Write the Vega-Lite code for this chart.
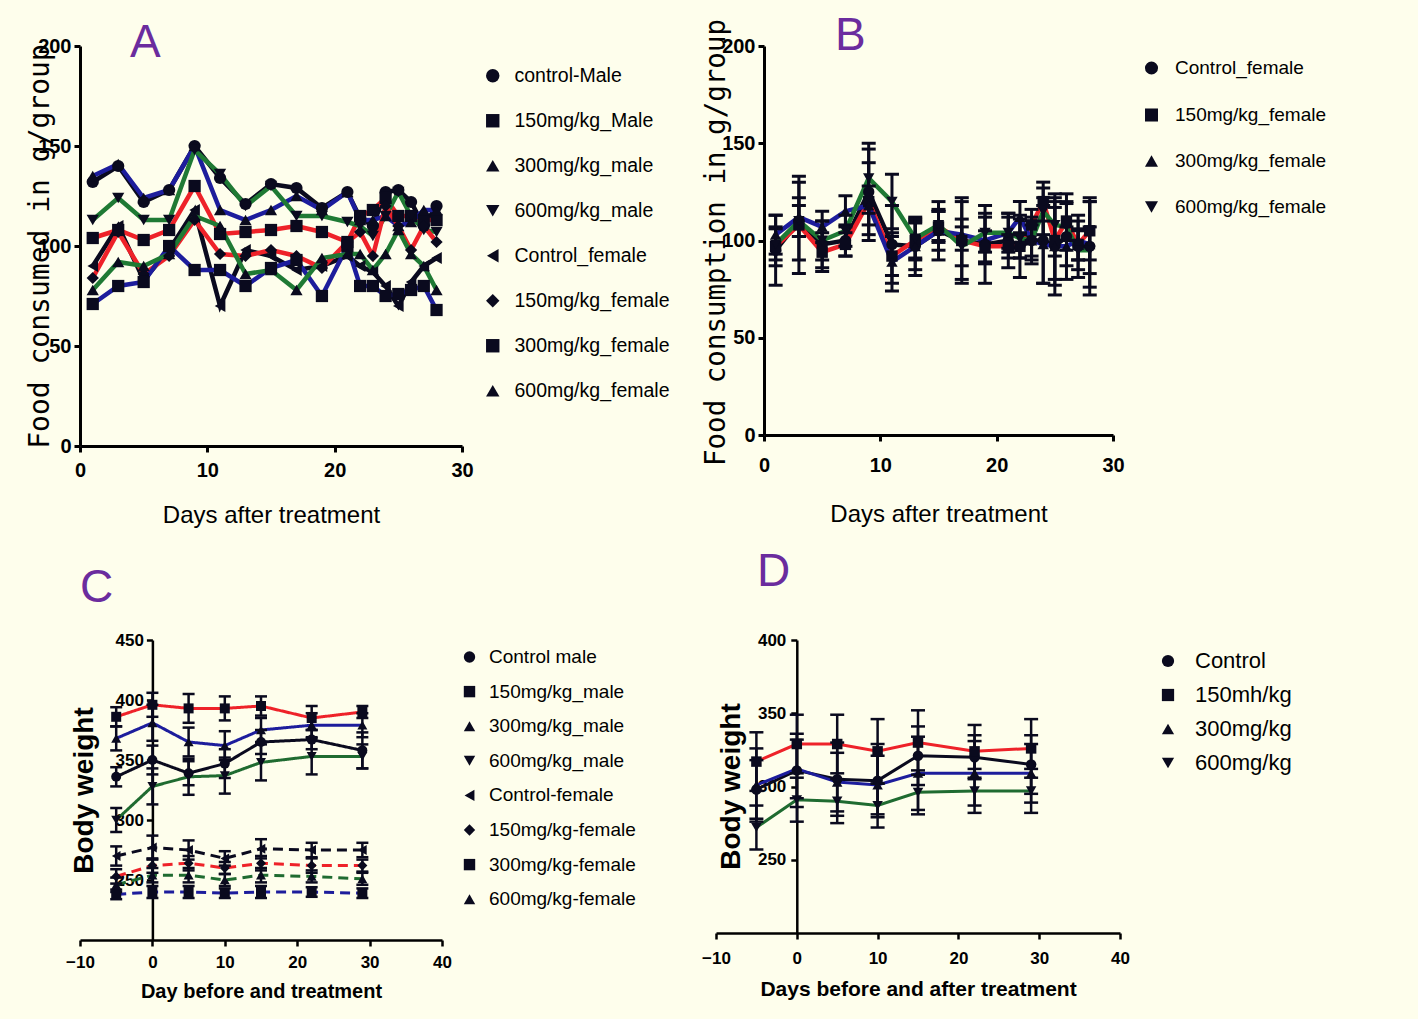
{
"$schema": "https://vega.github.io/schema/vega-lite/v6.json",
"background": "#FEFEEC",
"autosize": {"type": "none"},
"padding": {"left": 80, "top": 46, "right": 1338, "bottom": 973},
"config": {
  "view": {"stroke": null},
  "font": "Liberation Sans",
  "axis": {"grid": false, "domainColor": "#000", "tickColor": "#000", "labelColor": "#000", "titleColor": "#000", "domainWidth": 3, "tickWidth": 3, "tickSize": 6, "labelFontWeight": "bold", "titleFontWeight": "normal", "labelFlush": false, "labelOverlap": false, "titleFont": "Liberation Sans", "labelFont": "Liberation Sans"},
  "legend": {"labelColor": "#000", "labelFont": "Liberation Sans", "padding": 0},
  "title": {"color": "#6B2C9E", "fontSize": 46, "fontWeight": "normal", "font": "Liberation Sans", "anchor": "start", "frame": "group"}
},
"datasets": {
"a": [
{"g":"control-Male","day":1,"v":132},{"g":"control-Male","day":3,"v":140},{"g":"control-Male","day":5,"v":122},{"g":"control-Male","day":7,"v":128},{"g":"control-Male","day":9,"v":150},{"g":"control-Male","day":11,"v":134},{"g":"control-Male","day":13,"v":121},{"g":"control-Male","day":15,"v":131},{"g":"control-Male","day":17,"v":129},{"g":"control-Male","day":19,"v":119},{"g":"control-Male","day":21,"v":127},{"g":"control-Male","day":22,"v":114},{"g":"control-Male","day":23,"v":110},{"g":"control-Male","day":24,"v":127},{"g":"control-Male","day":25,"v":128},{"g":"control-Male","day":26,"v":122},{"g":"control-Male","day":27,"v":110},{"g":"control-Male","day":28,"v":120},
{"g":"150mg/kg_Male","day":1,"v":104},{"g":"150mg/kg_Male","day":3,"v":108},{"g":"150mg/kg_Male","day":5,"v":103},{"g":"150mg/kg_Male","day":7,"v":108},{"g":"150mg/kg_Male","day":9,"v":130},{"g":"150mg/kg_Male","day":11,"v":106},{"g":"150mg/kg_Male","day":13,"v":107},{"g":"150mg/kg_Male","day":15,"v":108},{"g":"150mg/kg_Male","day":17,"v":110},{"g":"150mg/kg_Male","day":19,"v":107},{"g":"150mg/kg_Male","day":21,"v":102},{"g":"150mg/kg_Male","day":22,"v":115},{"g":"150mg/kg_Male","day":23,"v":118},{"g":"150mg/kg_Male","day":24,"v":124},{"g":"150mg/kg_Male","day":25,"v":115},{"g":"150mg/kg_Male","day":26,"v":115},{"g":"150mg/kg_Male","day":27,"v":113},{"g":"150mg/kg_Male","day":28,"v":113},
{"g":"300mg/kg_male","day":1,"v":135},{"g":"300mg/kg_male","day":3,"v":141},{"g":"300mg/kg_male","day":5,"v":124},{"g":"300mg/kg_male","day":7,"v":128},{"g":"300mg/kg_male","day":9,"v":150},{"g":"300mg/kg_male","day":11,"v":118},{"g":"300mg/kg_male","day":13,"v":113},{"g":"300mg/kg_male","day":15,"v":118},{"g":"300mg/kg_male","day":17,"v":125},{"g":"300mg/kg_male","day":19,"v":118},{"g":"300mg/kg_male","day":21,"v":127},{"g":"300mg/kg_male","day":22,"v":113},{"g":"300mg/kg_male","day":23,"v":113},{"g":"300mg/kg_male","day":24,"v":115},{"g":"300mg/kg_male","day":25,"v":110},{"g":"300mg/kg_male","day":26,"v":112},{"g":"300mg/kg_male","day":27,"v":118},{"g":"300mg/kg_male","day":28,"v":118},
{"g":"600mg/kg_male","day":1,"v":113},{"g":"600mg/kg_male","day":3,"v":124},{"g":"600mg/kg_male","day":5,"v":113},{"g":"600mg/kg_male","day":7,"v":113},{"g":"600mg/kg_male","day":9,"v":148},{"g":"600mg/kg_male","day":11,"v":136},{"g":"600mg/kg_male","day":13,"v":120},{"g":"600mg/kg_male","day":15,"v":130},{"g":"600mg/kg_male","day":17,"v":115},{"g":"600mg/kg_male","day":19,"v":115},{"g":"600mg/kg_male","day":21,"v":112},{"g":"600mg/kg_male","day":22,"v":110},{"g":"600mg/kg_male","day":23,"v":105},{"g":"600mg/kg_male","day":24,"v":115},{"g":"600mg/kg_male","day":25,"v":127},{"g":"600mg/kg_male","day":26,"v":115},{"g":"600mg/kg_male","day":27,"v":108},{"g":"600mg/kg_male","day":28,"v":107},
{"g":"Control_female","day":1,"v":90},{"g":"Control_female","day":3,"v":110},{"g":"Control_female","day":5,"v":83},{"g":"Control_female","day":7,"v":98},{"g":"Control_female","day":9,"v":118},{"g":"Control_female","day":11,"v":70},{"g":"Control_female","day":13,"v":98},{"g":"Control_female","day":15,"v":95},{"g":"Control_female","day":17,"v":88},{"g":"Control_female","day":19,"v":90},{"g":"Control_female","day":21,"v":95},{"g":"Control_female","day":22,"v":90},{"g":"Control_female","day":23,"v":87},{"g":"Control_female","day":24,"v":80},{"g":"Control_female","day":25,"v":70},{"g":"Control_female","day":26,"v":82},{"g":"Control_female","day":27,"v":90},{"g":"Control_female","day":28,"v":94},
{"g":"150mg/kg_female","day":1,"v":84},{"g":"150mg/kg_female","day":3,"v":107},{"g":"150mg/kg_female","day":5,"v":86},{"g":"150mg/kg_female","day":7,"v":95},{"g":"150mg/kg_female","day":9,"v":113},{"g":"150mg/kg_female","day":11,"v":96},{"g":"150mg/kg_female","day":13,"v":95},{"g":"150mg/kg_female","day":15,"v":98},{"g":"150mg/kg_female","day":17,"v":95},{"g":"150mg/kg_female","day":19,"v":89},{"g":"150mg/kg_female","day":21,"v":102},{"g":"150mg/kg_female","day":22,"v":107},{"g":"150mg/kg_female","day":23,"v":95},{"g":"150mg/kg_female","day":24,"v":120},{"g":"150mg/kg_female","day":25,"v":110},{"g":"150mg/kg_female","day":26,"v":98},{"g":"150mg/kg_female","day":27,"v":110},{"g":"150mg/kg_female","day":28,"v":102},
{"g":"300mg/kg_female","day":1,"v":71},{"g":"300mg/kg_female","day":3,"v":80},{"g":"300mg/kg_female","day":5,"v":82},{"g":"300mg/kg_female","day":7,"v":100},{"g":"300mg/kg_female","day":9,"v":88},{"g":"300mg/kg_female","day":11,"v":88},{"g":"300mg/kg_female","day":13,"v":80},{"g":"300mg/kg_female","day":15,"v":89},{"g":"300mg/kg_female","day":17,"v":93},{"g":"300mg/kg_female","day":19,"v":75},{"g":"300mg/kg_female","day":21,"v":100},{"g":"300mg/kg_female","day":22,"v":80},{"g":"300mg/kg_female","day":23,"v":80},{"g":"300mg/kg_female","day":24,"v":75},{"g":"300mg/kg_female","day":25,"v":76},{"g":"300mg/kg_female","day":26,"v":78},{"g":"300mg/kg_female","day":27,"v":80},{"g":"300mg/kg_female","day":28,"v":68},
{"g":"600mg/kg_female","day":1,"v":78},{"g":"600mg/kg_female","day":3,"v":92},{"g":"600mg/kg_female","day":5,"v":90},{"g":"600mg/kg_female","day":7,"v":96},{"g":"600mg/kg_female","day":9,"v":115},{"g":"600mg/kg_female","day":11,"v":110},{"g":"600mg/kg_female","day":13,"v":86},{"g":"600mg/kg_female","day":15,"v":88},{"g":"600mg/kg_female","day":17,"v":78},{"g":"600mg/kg_female","day":19,"v":94},{"g":"600mg/kg_female","day":21,"v":96},{"g":"600mg/kg_female","day":22,"v":96},{"g":"600mg/kg_female","day":23,"v":88},{"g":"600mg/kg_female","day":24,"v":96},{"g":"600mg/kg_female","day":25,"v":108},{"g":"600mg/kg_female","day":26,"v":96},{"g":"600mg/kg_female","day":27,"v":90},{"g":"600mg/kg_female","day":28,"v":78}
],
"b": [
{"g":"Control_female","day":1,"v":95,"sd":18},{"g":"Control_female","day":3,"v":110,"sd":20},{"g":"Control_female","day":5,"v":98,"sd":12},{"g":"Control_female","day":7,"v":100,"sd":8},{"g":"Control_female","day":9,"v":125,"sd":22},{"g":"Control_female","day":11,"v":98,"sd":20},{"g":"Control_female","day":13,"v":97,"sd":15},{"g":"Control_female","day":15,"v":105,"sd":15},{"g":"Control_female","day":17,"v":100,"sd":22},{"g":"Control_female","day":19,"v":98,"sd":20},{"g":"Control_female","day":21,"v":100,"sd":14},{"g":"Control_female","day":22,"v":97,"sd":16},{"g":"Control_female","day":23,"v":100,"sd":12},{"g":"Control_female","day":24,"v":100,"sd":22},{"g":"Control_female","day":25,"v":97,"sd":25},{"g":"Control_female","day":26,"v":102,"sd":22},{"g":"Control_female","day":27,"v":97,"sd":16},{"g":"Control_female","day":28,"v":97,"sd":25},
{"g":"150mg/kg_female","day":1,"v":97,"sd":10},{"g":"150mg/kg_female","day":3,"v":108,"sd":25},{"g":"150mg/kg_female","day":5,"v":94,"sd":10},{"g":"150mg/kg_female","day":7,"v":98,"sd":6},{"g":"150mg/kg_female","day":9,"v":120,"sd":20},{"g":"150mg/kg_female","day":11,"v":92,"sd":10},{"g":"150mg/kg_female","day":13,"v":100,"sd":10},{"g":"150mg/kg_female","day":15,"v":107,"sd":8},{"g":"150mg/kg_female","day":17,"v":100,"sd":20},{"g":"150mg/kg_female","day":19,"v":97,"sd":8},{"g":"150mg/kg_female","day":21,"v":97,"sd":6},{"g":"150mg/kg_female","day":22,"v":97,"sd":6},{"g":"150mg/kg_female","day":23,"v":108,"sd":8},{"g":"150mg/kg_female","day":24,"v":120,"sd":10},{"g":"150mg/kg_female","day":25,"v":100,"sd":20},{"g":"150mg/kg_female","day":26,"v":110,"sd":10},{"g":"150mg/kg_female","day":27,"v":98,"sd":8},{"g":"150mg/kg_female","day":28,"v":105,"sd":15},
{"g":"300mg/kg_female","day":1,"v":103,"sd":10},{"g":"300mg/kg_female","day":3,"v":112,"sd":10},{"g":"300mg/kg_female","day":5,"v":107,"sd":8},{"g":"300mg/kg_female","day":7,"v":115,"sd":8},{"g":"300mg/kg_female","day":9,"v":118,"sd":10},{"g":"300mg/kg_female","day":11,"v":89,"sd":15},{"g":"300mg/kg_female","day":13,"v":97,"sd":12},{"g":"300mg/kg_female","day":15,"v":105,"sd":10},{"g":"300mg/kg_female","day":17,"v":103,"sd":8},{"g":"300mg/kg_female","day":19,"v":100,"sd":12},{"g":"300mg/kg_female","day":21,"v":104,"sd":10},{"g":"300mg/kg_female","day":22,"v":112,"sd":8},{"g":"300mg/kg_female","day":23,"v":100,"sd":10},{"g":"300mg/kg_female","day":24,"v":98,"sd":20},{"g":"300mg/kg_female","day":25,"v":97,"sd":20},{"g":"300mg/kg_female","day":26,"v":97,"sd":10},{"g":"300mg/kg_female","day":27,"v":100,"sd":10},{"g":"300mg/kg_female","day":28,"v":98,"sd":22},
{"g":"600mg/kg_female","day":1,"v":98,"sd":8},{"g":"600mg/kg_female","day":3,"v":110,"sd":8},{"g":"600mg/kg_female","day":5,"v":100,"sd":10},{"g":"600mg/kg_female","day":7,"v":105,"sd":8},{"g":"600mg/kg_female","day":9,"v":132,"sd":18},{"g":"600mg/kg_female","day":11,"v":120,"sd":14},{"g":"600mg/kg_female","day":13,"v":101,"sd":10},{"g":"600mg/kg_female","day":15,"v":108,"sd":8},{"g":"600mg/kg_female","day":17,"v":97,"sd":10},{"g":"600mg/kg_female","day":19,"v":104,"sd":10},{"g":"600mg/kg_female","day":21,"v":104,"sd":8},{"g":"600mg/kg_female","day":22,"v":101,"sd":10},{"g":"600mg/kg_female","day":23,"v":100,"sd":8},{"g":"600mg/kg_female","day":24,"v":115,"sd":12},{"g":"600mg/kg_female","day":25,"v":108,"sd":16},{"g":"600mg/kg_female","day":26,"v":107,"sd":12},{"g":"600mg/kg_female","day":27,"v":95,"sd":10},{"g":"600mg/kg_female","day":28,"v":95,"sd":12}
],
"c": [
{"g":"Control male","sex":"male","day":-5,"v":336,"sd":8},{"g":"Control male","sex":"male","day":0,"v":350,"sd":12},{"g":"Control male","sex":"male","day":5,"v":339,"sd":10},{"g":"Control male","sex":"male","day":10,"v":347,"sd":12},{"g":"Control male","sex":"male","day":15,"v":365,"sd":10},{"g":"Control male","sex":"male","day":22,"v":367,"sd":8},{"g":"Control male","sex":"male","day":29,"v":358,"sd":15},
{"g":"150mg/kg_male","sex":"male","day":-5,"v":386,"sd":8},{"g":"150mg/kg_male","sex":"male","day":0,"v":396,"sd":10},{"g":"150mg/kg_male","sex":"male","day":5,"v":393,"sd":12},{"g":"150mg/kg_male","sex":"male","day":10,"v":393,"sd":10},{"g":"150mg/kg_male","sex":"male","day":15,"v":395,"sd":8},{"g":"150mg/kg_male","sex":"male","day":22,"v":385,"sd":10},{"g":"150mg/kg_male","sex":"male","day":29,"v":390,"sd":5},
{"g":"300mg/kg_male","sex":"male","day":-5,"v":368,"sd":10},{"g":"300mg/kg_male","sex":"male","day":0,"v":381,"sd":15},{"g":"300mg/kg_male","sex":"male","day":5,"v":365,"sd":12},{"g":"300mg/kg_male","sex":"male","day":10,"v":362,"sd":12},{"g":"300mg/kg_male","sex":"male","day":15,"v":375,"sd":10},{"g":"300mg/kg_male","sex":"male","day":22,"v":379,"sd":10},{"g":"300mg/kg_male","sex":"male","day":29,"v":379,"sd":10},
{"g":"600mg/kg_male","sex":"male","day":-5,"v":300,"sd":10},{"g":"600mg/kg_male","sex":"male","day":0,"v":328,"sd":15},{"g":"600mg/kg_male","sex":"male","day":5,"v":336,"sd":15},{"g":"600mg/kg_male","sex":"male","day":10,"v":337,"sd":15},{"g":"600mg/kg_male","sex":"male","day":15,"v":348,"sd":15},{"g":"600mg/kg_male","sex":"male","day":22,"v":353,"sd":15},{"g":"600mg/kg_male","sex":"male","day":29,"v":353,"sd":10},
{"g":"Control-female","sex":"female","day":-5,"v":270,"sd":8},{"g":"Control-female","sex":"female","day":0,"v":277,"sd":10},{"g":"Control-female","sex":"female","day":5,"v":275,"sd":8},{"g":"Control-female","sex":"female","day":10,"v":268,"sd":6},{"g":"Control-female","sex":"female","day":15,"v":276,"sd":8},{"g":"Control-female","sex":"female","day":22,"v":275,"sd":6},{"g":"Control-female","sex":"female","day":29,"v":275,"sd":6},
{"g":"150mg/kg-female","sex":"female","day":-5,"v":253,"sd":6},{"g":"150mg/kg-female","sex":"female","day":0,"v":262,"sd":6},{"g":"150mg/kg-female","sex":"female","day":5,"v":264,"sd":6},{"g":"150mg/kg-female","sex":"female","day":10,"v":260,"sd":5},{"g":"150mg/kg-female","sex":"female","day":15,"v":264,"sd":6},{"g":"150mg/kg-female","sex":"female","day":22,"v":262,"sd":6},{"g":"150mg/kg-female","sex":"female","day":29,"v":262,"sd":5},
{"g":"300mg/kg-female","sex":"female","day":-5,"v":238,"sd":4},{"g":"300mg/kg-female","sex":"female","day":0,"v":240,"sd":5},{"g":"300mg/kg-female","sex":"female","day":5,"v":240,"sd":5},{"g":"300mg/kg-female","sex":"female","day":10,"v":239,"sd":4},{"g":"300mg/kg-female","sex":"female","day":15,"v":240,"sd":5},{"g":"300mg/kg-female","sex":"female","day":22,"v":240,"sd":4},{"g":"300mg/kg-female","sex":"female","day":29,"v":239,"sd":4},
{"g":"600mg/kg-female","sex":"female","day":-5,"v":246,"sd":6},{"g":"600mg/kg-female","sex":"female","day":0,"v":254,"sd":6},{"g":"600mg/kg-female","sex":"female","day":5,"v":254,"sd":6},{"g":"600mg/kg-female","sex":"female","day":10,"v":250,"sd":5},{"g":"600mg/kg-female","sex":"female","day":15,"v":254,"sd":6},{"g":"600mg/kg-female","sex":"female","day":22,"v":253,"sd":5},{"g":"600mg/kg-female","sex":"female","day":29,"v":251,"sd":5}
],
"d": [
{"g":"Control","day":-5,"v":298,"sd":20},{"g":"Control","day":0,"v":311,"sd":25},{"g":"Control","day":5,"v":305,"sd":25},{"g":"Control","day":10,"v":304,"sd":25},{"g":"Control","day":15,"v":321,"sd":20},{"g":"Control","day":22,"v":320,"sd":15},{"g":"Control","day":29,"v":315,"sd":20},
{"g":"150mh/kg","day":-5,"v":317,"sd":20},{"g":"150mh/kg","day":0,"v":329,"sd":20},{"g":"150mh/kg","day":5,"v":329,"sd":20},{"g":"150mh/kg","day":10,"v":324,"sd":22},{"g":"150mh/kg","day":15,"v":330,"sd":22},{"g":"150mh/kg","day":22,"v":324,"sd":18},{"g":"150mh/kg","day":29,"v":326,"sd":20},
{"g":"300mg/kg","day":-5,"v":301,"sd":25},{"g":"300mg/kg","day":0,"v":312,"sd":20},{"g":"300mg/kg","day":5,"v":303,"sd":20},{"g":"300mg/kg","day":10,"v":301,"sd":20},{"g":"300mg/kg","day":15,"v":309,"sd":25},{"g":"300mg/kg","day":22,"v":309,"sd":22},{"g":"300mg/kg","day":29,"v":309,"sd":20},
{"g":"600mg/kg","day":-5,"v":272,"sd":15},{"g":"600mg/kg","day":0,"v":291,"sd":15},{"g":"600mg/kg","day":5,"v":290,"sd":15},{"g":"600mg/kg","day":10,"v":287,"sd":15},{"g":"600mg/kg","day":15,"v":296,"sd":15},{"g":"600mg/kg","day":22,"v":297,"sd":15},{"g":"600mg/kg","day":29,"v":297,"sd":15}
]
},
"spacing": 22,
"resolve": {"scale": {"color": "independent", "shape": "independent", "strokeDash": "independent"}, "legend": {"color": "independent", "shape": "independent", "strokeDash": "independent"}},
"vconcat": [
{"hconcat": [
  {
    "width": 382, "height": 400,
    "title": {"text": "A", "dx": 50, "offset": -67, "baseline": "alphabetic"},
    "data": {"name": "a"},
    "encoding": {
      "x": {"field": "day", "type": "quantitative", "scale": {"domain": [0, 30], "nice": false, "zero": false},
        "axis": {"values": [0, 10, 20, 30], "title": "Days after treatment", "titleFontSize": 24, "titleY": 57, "titleBaseline": "top", "labelPadding": 8, "labelFontSize": 20}},
      "y": {"field": "v", "type": "quantitative", "scale": {"domain": [0, 200], "nice": false},
        "axis": {"values": [0, 50, 100, 150, 200], "title": "Food consumed in g/group", "titleFont": "DejaVu Sans Mono", "titleFontSize": 28, "titleX": -26, "titleY": 200, "labelFontSize": 20, "labelPadding": 3}}
    },
    "layer": [
      {"mark": {"type": "line", "strokeWidth": 4.5},
       "encoding": {"color": {"field": "g", "type": "nominal", "legend": null,
         "scale": {"domain": ["600mg/kg_female","300mg/kg_female","150mg/kg_female","Control_female","600mg/kg_male","300mg/kg_male","150mg/kg_Male","control-Male"],
                   "range": ["#1f7a34","#1d1d9c","#ee2229","#0a0a1e","#1f7a34","#1d1d9c","#ee2229","#0a0a1e"]}}}},
      {"mark": {"type": "point", "filled": true, "size": 150, "color": "#0a0a1e", "opacity": 1},
       "encoding": {"shape": {"field": "g", "type": "nominal",
         "scale": {"domain": ["control-Male","150mg/kg_Male","300mg/kg_male","600mg/kg_male","Control_female","150mg/kg_female","300mg/kg_female","600mg/kg_female"],
                   "range": ["circle","square","triangle-up","triangle-down","triangle-left","diamond","square","triangle-up"]},
         "legend": {"title": null, "orient": "none", "legendX": 403, "legendY": 20, "direction": "vertical", "labelFontSize": 19.5, "symbolSize": 180, "rowPadding": 24, "labelOffset": 12}}}}
    ]
  },
  {
    "width": 349, "height": 389,
    "title": {"text": "B", "dx": 71, "offset": -78, "baseline": "alphabetic"},
    "data": {"name": "b"},
    "encoding": {
      "x": {"field": "day", "type": "quantitative", "scale": {"domain": [0, 30], "nice": false, "zero": false},
        "axis": {"values": [0, 10, 20, 30], "title": "Days after treatment", "titleFontSize": 24, "titleY": 67, "titleBaseline": "top", "labelPadding": 14, "labelFontSize": 20}},
      "y": {"field": "v", "type": "quantitative", "scale": {"domain": [0, 200], "nice": false},
        "axis": {"values": [0, 50, 100, 150, 200], "title": "Food consumption in g/group", "titleFont": "DejaVu Sans Mono", "titleFontSize": 27.5, "titleX": -34, "titleY": 196, "labelFontSize": 20, "labelPadding": 3}}
    },
    "layer": [
      {"mark": {"type": "line", "strokeWidth": 4.5},
       "encoding": {"color": {"field": "g", "type": "nominal", "legend": null,
         "scale": {"domain": ["600mg/kg_female","300mg/kg_female","150mg/kg_female","Control_female"],
                   "range": ["#1f7a34","#1d1d9c","#ee2229","#0a0a1e"]}}}},
      {"mark": {"type": "errorbar", "thickness": 3, "color": "#0a0a1e", "rule": {"color": "#0a0a1e", "opacity": 1}, "ticks": {"size": 14, "thickness": 3, "color": "#0a0a1e", "opacity": 1}},
       "encoding": {"y": {"field": "v", "type": "quantitative"}, "yError": {"field": "sd"}}},
      {"mark": {"type": "point", "filled": true, "size": 130, "color": "#0a0a1e", "opacity": 1},
       "encoding": {"shape": {"field": "g", "type": "nominal",
         "scale": {"domain": ["Control_female","150mg/kg_female","300mg/kg_female","600mg/kg_female"],
                   "range": ["circle","square","triangle-up","triangle-down"]},
         "legend": {"title": null, "orient": "none", "legendX": 378, "legendY": 12.5, "direction": "vertical", "labelFontSize": 19, "symbolSize": 170, "rowPadding": 26, "labelOffset": 14}}}}
    ]
  }
], "spacing": 302, "bounds": "flush",
 "resolve": {"scale": {"color": "independent", "shape": "independent"}, "legend": {"color": "independent", "shape": "independent"}}},
{"hconcat": [
  {
    "width": 362, "height": 300,
    "title": {"text": "C", "dx": 0, "offset": -17, "baseline": "alphabetic"},
    "data": {"name": "c"},
    "encoding": {
      "x": {"field": "day", "type": "quantitative", "scale": {"domain": [-10, 40], "nice": false, "zero": false},
        "axis": {"values": [-10, 0, 10, 20, 30, 40], "title": "Day before and treatment", "titleFontSize": 20, "titleFontWeight": "bold", "titleY": 41, "titleBaseline": "top", "labelPadding": 8, "labelFontSize": 17, "domainWidth": 2.5, "tickWidth": 2.5}},
      "y": {"field": "v", "type": "quantitative", "scale": {"domain": [200, 450], "nice": false, "zero": false},
        "axis": {"values": [250, 300, 350, 400, 450], "offset": -72.4, "title": "Body weight", "titleFontSize": 28, "titleFontWeight": "bold", "titleX": -54, "titleY": 150, "labelFontSize": 17, "labelPadding": 3, "domainWidth": 2.5, "tickWidth": 2.5}}
    },
    "layer": [
      {"mark": {"type": "line", "strokeWidth": 3},
       "encoding": {"color": {"field": "g", "type": "nominal", "legend": null,
         "scale": {"domain": ["600mg/kg-female","300mg/kg-female","150mg/kg-female","Control-female","600mg/kg_male","300mg/kg_male","150mg/kg_male","Control male"],
                   "range": ["#1f6b30","#1d1d9c","#ee2229","#0a0a1e","#1f6b30","#1d1d9c","#ee2229","#0a0a1e"]}},
         "strokeDash": {"field": "sex", "type": "nominal", "legend": null, "scale": {"domain": ["male", "female"], "range": [[1, 0], [10, 6]]}}}},
      {"mark": {"type": "errorbar", "thickness": 2.5, "color": "#0a0a1e", "rule": {"color": "#0a0a1e", "opacity": 1}, "ticks": {"size": 12, "thickness": 2.5, "color": "#0a0a1e", "opacity": 1}},
       "encoding": {"y": {"field": "v", "type": "quantitative"}, "yError": {"field": "sd"}}},
      {"mark": {"type": "point", "filled": true, "size": 100, "color": "#0a0a1e", "opacity": 1},
       "encoding": {"shape": {"field": "g", "type": "nominal",
         "scale": {"domain": ["Control male","150mg/kg_male","300mg/kg_male","600mg/kg_male","Control-female","150mg/kg-female","300mg/kg-female","600mg/kg-female"],
                   "range": ["circle","square","triangle-up","triangle-down","triangle-left","diamond","square","triangle-up"]},
         "legend": {"title": null, "orient": "none", "legendX": 380, "legendY": 7.5, "direction": "vertical", "labelFontSize": 19, "symbolSize": 130, "rowPadding": 14.6, "labelOffset": 10}}}}
    ]
  },
  {
    "width": 404, "height": 293,
    "title": {"text": "D", "dx": 41, "offset": -1, "baseline": "alphabetic"},
    "data": {"name": "d"},
    "encoding": {
      "x": {"field": "day", "type": "quantitative", "scale": {"domain": [-10, 40], "nice": false, "zero": false},
        "axis": {"values": [-10, 0, 10, 20, 30, 40], "title": "Days before and after treatment", "titleFontSize": 21, "titleFontWeight": "bold", "titleY": 45, "titleBaseline": "top", "labelPadding": 11, "labelFontSize": 17, "domainWidth": 2.5, "tickWidth": 2.5}},
      "y": {"field": "v", "type": "quantitative", "scale": {"domain": [200, 400], "nice": false, "zero": false},
        "axis": {"values": [250, 300, 350, 400], "offset": -80.8, "title": "Body weight", "titleFontSize": 28, "titleFontWeight": "bold", "titleX": -51, "titleY": 146, "labelFontSize": 17, "labelPadding": 5, "domainWidth": 2.5, "tickWidth": 2.5}}
    },
    "layer": [
      {"mark": {"type": "line", "strokeWidth": 3},
       "encoding": {"color": {"field": "g", "type": "nominal", "legend": null,
         "scale": {"domain": ["600mg/kg","300mg/kg","150mh/kg","Control"],
                   "range": ["#1f6b30","#1d1d9c","#ee2229","#0a0a1e"]}}}},
      {"mark": {"type": "errorbar", "thickness": 2.5, "color": "#0a0a1e", "rule": {"color": "#0a0a1e", "opacity": 1}, "ticks": {"size": 14, "thickness": 2.5, "color": "#0a0a1e", "opacity": 1}},
       "encoding": {"y": {"field": "v", "type": "quantitative"}, "yError": {"field": "sd"}}},
      {"mark": {"type": "point", "filled": true, "size": 110, "color": "#0a0a1e", "opacity": 1},
       "encoding": {"shape": {"field": "g", "type": "nominal",
         "scale": {"domain": ["Control","150mh/kg","300mg/kg","600mg/kg"],
                   "range": ["circle","square","triangle-up","triangle-down"]},
         "legend": {"title": null, "orient": "none", "legendX": 441, "legendY": 10, "direction": "vertical", "labelFontSize": 22, "symbolSize": 150, "rowPadding": 12, "labelOffset": 16}}}}
    ]
  }
], "spacing": 274, "bounds": "flush",
 "resolve": {"scale": {"color": "independent", "shape": "independent", "strokeDash": "independent"}, "legend": {"color": "independent", "shape": "independent", "strokeDash": "independent"}}}
]
}
